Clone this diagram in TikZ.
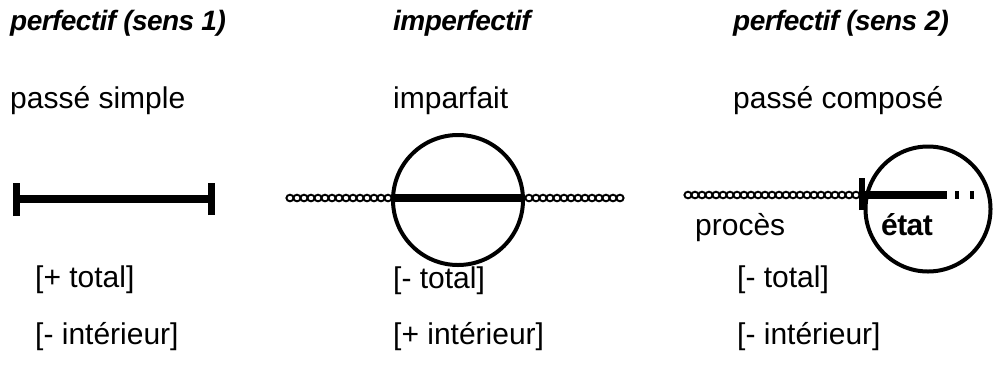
\documentclass[tikz,border=0pt]{standalone}
\usepackage{fontspec}
\setmainfont{Liberation Sans}
\newfontfamily\hdrfont[LetterSpace=-2]{Liberation Sans}
\begin{document}
\begin{tikzpicture}[x=1pt,y=-1pt,
  hdr/.style={anchor=base west,inner sep=0pt,font=\hdrfont\fontsize{28}{32}\selectfont\bfseries\itshape},
  txt/.style={anchor=base west,inner sep=0pt,font=\fontsize{30}{34}\selectfont},
  bar/.style={line width=8pt},
  endtick/.style={line width=7pt},
  ring/.style={circle,draw,line width=4pt,inner sep=0pt},
  loopy/.style={line width=1.9pt}
]
\useasboundingbox (0,0) rectangle (998,365);
% headers
\node[hdr] (h1) at (10,30) {perfectif (sens 1)};
\node[hdr] (h2) at (393,30) {imperfectif};
\node[hdr] (h3) at (733,30) {perfectif (sens 2)};
\node[txt] (t1) at (10,108) {passé simple};
\node[txt] (t2) at (393,108) {imparfait};
\node[txt] (t3) at (733,108) {passé composé};
% features
\node[txt] (f1a) at (35,287) {[+ total]};
\node[txt] (f1b) at (35,344) {[- intérieur]};
\node[txt] (f2a) at (393,288) {[- total]};
\node[txt] (f2b) at (393,344) {[+ intérieur]};
\node[txt] (f3a) at (737,287) {[- total]};
\node[txt] (f3b) at (737,344) {[- intérieur]};
% diagram 1
\coordinate (a1) at (16,199);
\coordinate (a2) at (211,199);
\draw[bar] (a1) -- (a2);
\draw[endtick] ([yshift=-17pt]a1) -- ([yshift=16pt]a1);
\draw[endtick] ([yshift=-16pt]a2) -- ([yshift=16pt]a2);
% diagram 2
\foreach \x in {290,297,...,388} \draw[loopy] (\x,198) ellipse (3.6 and 3.3);
\foreach \x in {529,536,...,624} \draw[loopy] (\x,198) ellipse (3.6 and 3.3);
\node[ring,minimum size=130pt] (c2) at (458,200) {};
\coordinate (b1) at (393,198);
\coordinate (b2) at (523,198);
\draw[bar] (b1) -- (b2);
% diagram 3
\foreach \x in {688,695,...,856} \draw[loopy] (\x,195) ellipse (3.6 and 3.3);
\node[ring,minimum size=125pt] (c3) at (928,209) {};
\coordinate (d1) at (862,195);
\coordinate (d2) at (947,195);
\draw[bar] (d1) -- (d2);
\draw[line width=6pt] ([yshift=-15pt]d1) -- ([yshift=17pt]d1);
\draw[line width=3.5pt] (957,191) -- (957,199);
\draw[line width=3.5pt] (972,191) -- (972,199);
\node[txt] (p) at (695,235) {procès};
\node[txt,font=\hdrfont\fontsize{30}{34}\selectfont\bfseries] (e) at (881,235) {état};
\end{tikzpicture}
\end{document}
